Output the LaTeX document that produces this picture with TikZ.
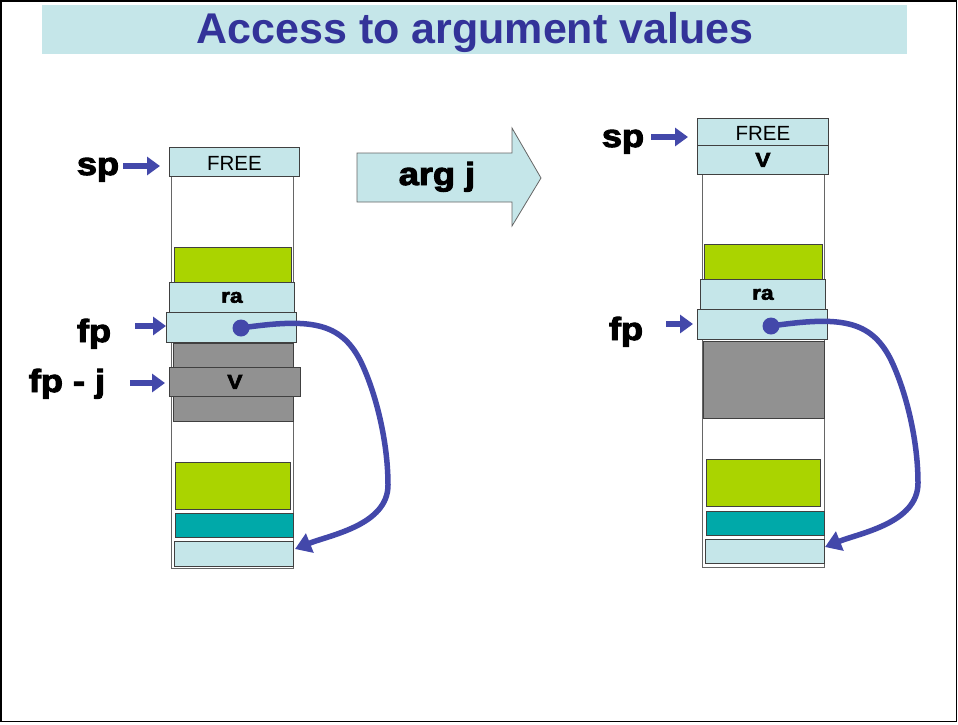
\documentclass[tikz,border=0pt]{standalone}
\usepackage{fontspec}
\setmainfont{Liberation Sans}
\newfontfamily\heavyfont[FakeBold=3]{Liberation Sans Bold}
\usetikzlibrary{arrows.meta}
\definecolor{lcyan}{HTML}{C5E6E9}
\definecolor{lgreen}{HTML}{AAD400}
\definecolor{tealc}{HTML}{00A9A9}
\definecolor{grayc}{HTML}{919191}
\definecolor{pblue}{HTML}{4348AA}
\definecolor{tblue}{HTML}{333399}
\newcommand{\wide}[1]{\scalebox{1.13}[1]{#1}}
\tikzset{
  cell/.style={draw=black!75, line width=0.8pt, inner sep=0pt, anchor=north west},
  column/.style={draw=black!60, line width=0.8pt},
  plabel/.style={anchor=base, inner sep=0pt, font=\heavyfont\fontsize{32}{32}\selectfont},
  parrow/.style={draw=pblue, line width=6pt, -{Triangle[length=13pt,width=18pt]}},
  link/.style={draw=pblue, line width=5.5pt, -{Triangle[length=16pt,width=20pt]}},
  celltext/.style={font=\heavyfont\fontsize{20}{20}\selectfont},
  freetext/.style={font=\fontsize{20.5}{20.5}\selectfont, yshift=-2pt},
}
\begin{document}
\begin{tikzpicture}[x=1pt,y=-1pt]
\useasboundingbox (0,0) rectangle (958,724);
\draw[line width=1.5pt] (0.75,0.75) rectangle (956.5,721.5);
% title
\fill[lcyan] (42,5) rectangle (907,54);
\node[anchor=base, inner sep=0pt] (title) at (475,43) {\bfseries\fontsize{43}{43}\selectfont\color{tblue}Access to argument values};

% ===== left stack =====
\draw[column] (171,176) rectangle (293,568);
\node[cell, fill=lcyan, minimum width=130pt, minimum height=29pt] (free1) at (169,147) {};
\node[freetext] at (free1.center) {FREE};
\node[cell, fill=lgreen, minimum width=117pt, minimum height=35pt] (g1a) at (174,247) {};
\node[cell, fill=lcyan, minimum width=125pt, minimum height=30pt] (ra1) at (169,282) {};
\node[celltext] at (ra1.center) {\wide{ra}};
\node[cell, fill=lcyan, minimum width=130pt, minimum height=30pt] (fp1) at (166,312) {};
\node[cell, fill=grayc, minimum width=120pt, minimum height=78pt] (gr1) at (173,343) {};
\node[cell, fill=grayc, minimum width=131pt, minimum height=29pt] (v1) at (169,367) {};
\node[celltext] at (v1.center) {\wide{V}};
\node[cell, fill=lgreen, minimum width=115pt, minimum height=47pt] (g1b) at (175,462) {};
\node[cell, fill=tealc, minimum width=118pt, minimum height=24pt] (t1) at (175,513) {};
\node[cell, fill=lcyan, minimum width=119pt, minimum height=25pt] (c1) at (174,541) {};

\node[plabel] (spL1) at (98,175) {\wide{sp}};
\node[plabel] (fpL1) at (94,342) {\wide{fp}};
\node[plabel] (fpjL) at (67,392) {\wide{fp - j}};
\coordinate (spA1) at (123,166);
\coordinate (fpA1) at (135,326);
\coordinate (fpjA) at (130,383);
\draw[parrow, shorten >=9pt] (spA1) -- (spA1 -| free1.west);
\draw[parrow, shorten >=0pt] (fpA1) -- (fpA1 -| fp1.west);
\draw[parrow, shorten >=4pt] (fpjA) -- (fpjA -| v1.west);

\node[circle, fill=pblue, inner sep=0pt, minimum size=17pt] (dot1) at (241,328) {};
\coordinate (tip1) at (295,549);
\draw[link] (dot1.center) .. controls (310,318) and (340,322) .. (360,360)
   .. controls (375,390) and (388,440) .. (388,485)
   .. controls (388,525) and (330,535) .. (tip1);

% ===== arrow arg j =====
\draw[draw=black!60, line width=0.8pt, fill=lcyan]
  (357,153) -- (512,153) -- (512,128) -- (541,178) -- (512,226) -- (512,202) -- (357,202) -- cycle;
\node[font=\heavyfont\fontsize{32}{32}\selectfont, anchor=base, inner sep=0pt] (argj) at (437,185) {\wide{arg j}};

% ===== right stack =====
\draw[column] (702,174) rectangle (824,567);
\node[cell, fill=lcyan, minimum width=131pt, minimum height=27pt] (free2) at (697,118) {};
\node[freetext] at (free2.center) {FREE};
\node[cell, fill=lcyan, minimum width=131pt, minimum height=29pt] (v2) at (697,145) {};
\node[celltext] at (v2.center) {\wide{V}};
\node[cell, fill=lgreen, minimum width=118pt, minimum height=35pt] (g2a) at (704,244) {};
\node[cell, fill=lcyan, minimum width=125pt, minimum height=30pt] (ra2) at (700,279) {};
\node[celltext] at (ra2.center) {\wide{ra}};
\node[cell, fill=lcyan, minimum width=130pt, minimum height=30pt] (fp2) at (697,309) {};
\node[cell, fill=grayc, minimum width=121pt, minimum height=77pt] (gr2) at (703,341) {};
\node[cell, fill=lgreen, minimum width=114pt, minimum height=47pt] (g2b) at (706,459) {};
\node[cell, fill=tealc, minimum width=118pt, minimum height=24pt] (t2) at (706,511) {};
\node[cell, fill=lcyan, minimum width=119pt, minimum height=24pt] (c2) at (705,539) {};

\node[plabel] (spL2) at (623,147) {\wide{sp}};
\node[plabel] (fpL2) at (626,340) {\wide{fp}};
\coordinate (spA2) at (651,137);
\coordinate (fpA2) at (666,324);
\draw[parrow, shorten >=9pt] (spA2) -- (spA2 -| free2.west);
\draw[parrow, shorten >=4pt] (fpA2) -- (fpA2 -| fp2.west);

\node[circle, fill=pblue, inner sep=0pt, minimum size=17pt] (dot2) at (771,326) {};
\coordinate (tip2) at (825,547);
\draw[link] (dot2.center) .. controls (840,316) and (870,320) .. (890,358)
   .. controls (905,388) and (918,438) .. (918,483)
   .. controls (918,523) and (860,533) .. (tip2);
\end{tikzpicture}
\end{document}
